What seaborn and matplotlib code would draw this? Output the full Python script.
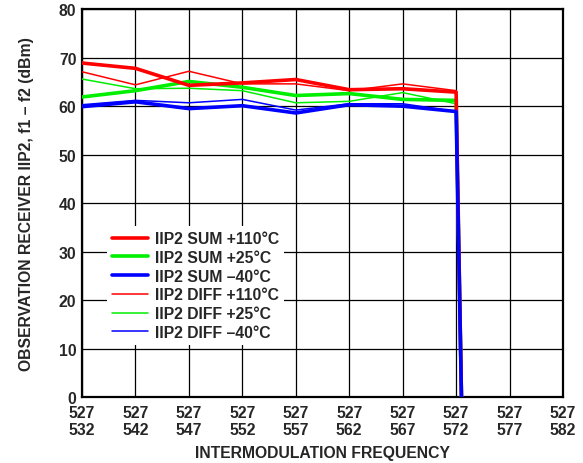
import numpy as np
import pandas as pd
import matplotlib
matplotlib.use('Agg')
import matplotlib.pyplot as plt
import seaborn as sns

# Datos (dBm)
tick_labels = ['527\n532', '527\n542', '527\n547', '527\n552', '527\n557',
               '527\n562', '527\n567', '527\n572', '527\n577', '527\n582']
x_pos = [0, 1, 2, 3, 4, 5, 6, 7, 7.1]

sum_110 = [68.9, 67.8, 64.3, 64.8, 65.5, 63.4, 63.6, 62.9, 0]
sum_25 = [61.9, 63.2, 65.1, 63.9, 62.2, 62.6, 61.4, 61.2, 0]
sum_m40 = [59.9, 60.9, 59.5, 60.1, 58.6, 60.3, 60.0, 58.9, 0]
diff_110 = [67.1, 64.4, 67.2, 64.6, 64.6, 63.2, 64.6, 63.2, 0]
diff_25 = [65.6, 63.6, 63.7, 63.2, 60.7, 61.0, 62.8, 60.5, 0]
diff_m40 = [60.3, 61.2, 60.7, 61.4, 59.2, 60.5, 60.5, 58.9, 0]

series = [
    ('IIP2 SUM +110°C', sum_110, '#ff0000', 2.6),
    ('IIP2 SUM +25°C', sum_25, '#00ee00', 2.6),
    ('IIP2 SUM \u201340°C', sum_m40, '#0000ff', 2.6),
    ('IIP2 DIFF +110°C', diff_110, '#ff0000', 1.1),
    ('IIP2 DIFF +25°C', diff_25, '#00ee00', 1.1),
    ('IIP2 DIFF \u201340°C', diff_m40, '#0000ff', 1.1),
]

sns.set_style('white')
plt.rcParams['font.family'] = ['Liberation Sans', 'DejaVu Sans']
plt.rcParams['font.weight'] = 'bold'
fs = 11.3

fig = plt.figure(figsize=(5.83, 4.64), dpi=100)
ax = fig.add_axes([0.1407, 0.142, 0.825, 0.836])

# orden de dibujo: finas primero, luego gruesas (azul encima)
orden = [4, 3, 5, 1, 0, 2]
for i in orden:
    nombre, vals, color, lw = series[i]
    sns.lineplot(x=x_pos, y=vals, color=color, linewidth=lw, ax=ax,
                 label=nombre, zorder=3 + (lw > 2))

ax.set_xlim(0, 9)
ax.set_ylim(0, 80)
ax.set_xticks(range(10))
ax.set_xticklabels(tick_labels, fontsize=fs, fontweight='bold', linespacing=1.1)
ax.set_yticks(range(0, 81, 10))
ax.set_yticklabels([str(v) for v in range(0, 81, 10)], fontsize=fs, fontweight='bold')
ax.tick_params(axis='x', length=0, pad=6)
ax.tick_params(axis='y', length=0, pad=4)
ax.grid(True, color='black', linewidth=0.9)
for s in ax.spines.values():
    s.set_color('black')
    s.set_linewidth(1.6)

ax.set_xlabel('INTERMODULATION FREQUENCY', fontsize=fs, fontweight='bold', labelpad=6)
ax.set_ylabel('OBSERVATION RECEIVER IIP2, f1 \u2013 f2 (dBm)', fontsize=fs,
              fontweight='bold', labelpad=18)

handles, labels = ax.get_legend_handles_labels()
mapa = dict(zip(labels, handles))
nombres = [s[0] for s in series]
leg = ax.legend([mapa[n] for n in nombres], nombres, loc='upper left',
                bbox_to_anchor=(0.052, 0.44), frameon=True, framealpha=1,
                facecolor='white', edgecolor='none', fontsize=fs,
                handlelength=2.3, labelspacing=0.24, borderpad=0.3,
                handletextpad=0.45, borderaxespad=0)
leg.set_zorder(10)
for t in leg.get_texts():
    t.set_fontweight('bold')

fig.savefig('out.png', dpi=100)
